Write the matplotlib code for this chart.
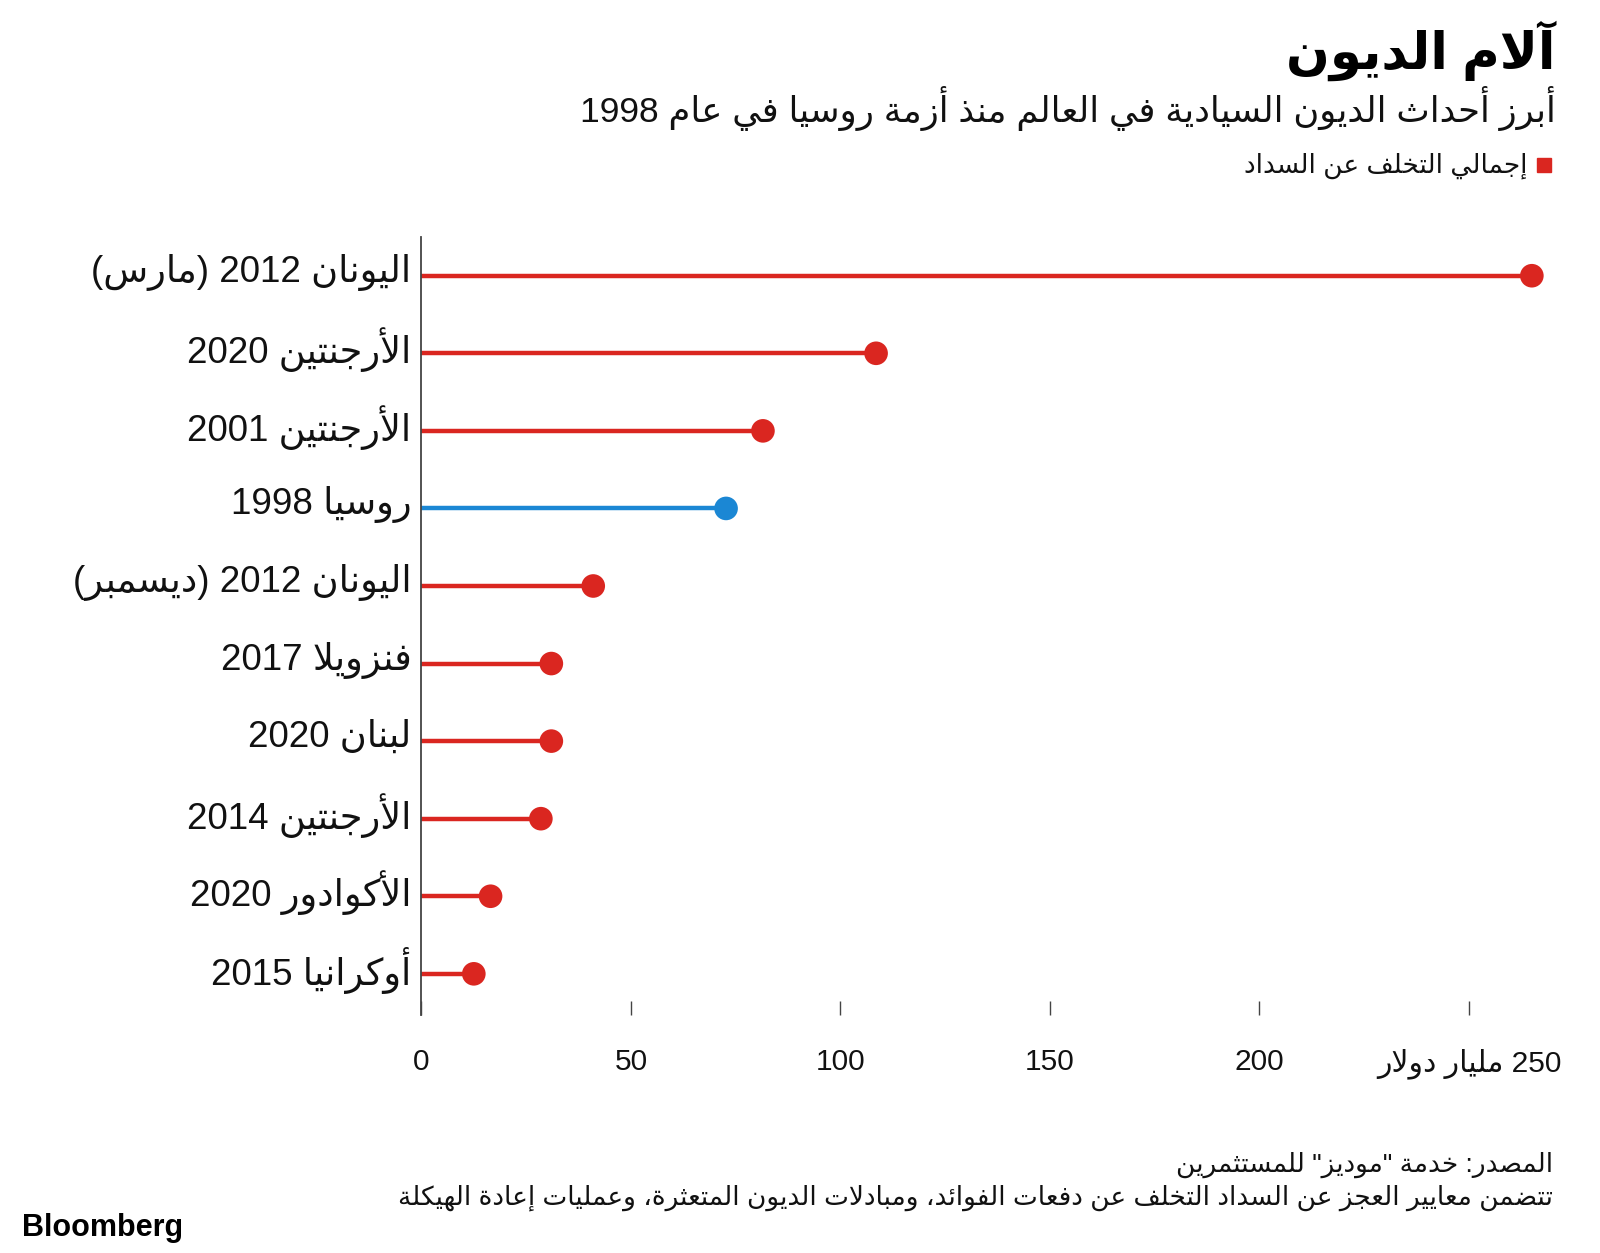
import re
import matplotlib
matplotlib.use("Agg")
from matplotlib import pyplot as plt
from matplotlib.patches import Rectangle

plt.rcParams['font.family'] = ['Liberation Sans', 'DejaVu Sans']

# ---- data ----
events = ["اليونان 2012 (مارس)", "الأرجنتين 2020", "الأرجنتين 2001", "روسيا 1998",
          "اليونان 2012 (ديسمبر)", "فنزويلا 2017", "لبنان 2020", "الأرجنتين 2014",
          "الأكوادور 2020", "أوكرانيا 2015"]
totals = [265, 108.5, 81.5, 72.7, 41, 31, 31, 28.5, 16.5, 12.5]
highlight = "روسيا 1998"
xticks = [0, 50, 100, 150, 200, 250]
unit = "مليار دولار"

title = "آلام الديون"
subtitle = "أبرز أحداث الديون السيادية في العالم منذ أزمة روسيا في عام 1998"
legend_label = "إجمالي التخلف عن السداد"
source = 'المصدر: خدمة "موديز" للمستثمرين'
note = "تتضمن معايير العجز عن السداد التخلف عن دفعات الفوائد، ومبادلات الديون المتعثرة، وعمليات إعادة الهيكلة"

RED = '#da2620'
BLUE = '#1b87d4'

# ---- tiny arabic shaper (matplotlib has no RTL / joining support) ----
_DUAL = {'ئ': 0xFE89, 'ب': 0xFE8F, 'ت': 0xFE95, 'ث': 0xFE99, 'ج': 0xFE9D, 'ح': 0xFEA1,
         'خ': 0xFEA5, 'س': 0xFEB1, 'ش': 0xFEB5, 'ص': 0xFEB9, 'ض': 0xFEBD, 'ط': 0xFEC1,
         'ظ': 0xFEC5, 'ع': 0xFEC9, 'غ': 0xFECD, 'ف': 0xFED1, 'ق': 0xFED5, 'ك': 0xFED9,
         'ل': 0xFEDD, 'م': 0xFEE1, 'ن': 0xFEE5, 'ه': 0xFEE9, 'ي': 0xFEF1}
_RIGHT = {'آ': 0xFE81, 'أ': 0xFE83, 'ؤ': 0xFE85, 'إ': 0xFE87, 'ا': 0xFE8D, 'ة': 0xFE93,
          'د': 0xFEA9, 'ذ': 0xFEAB, 'ر': 0xFEAD, 'ز': 0xFEAF, 'و': 0xFEED, 'ى': 0xFEEF}
_LAMALEF = {'آ': 0xFEF5, 'أ': 0xFEF7, 'إ': 0xFEF9, 'ا': 0xFEFB}


def shape(s):
    units = []
    i = 0
    while i < len(s):
        if s[i] == 'ل' and i + 1 < len(s) and s[i + 1] in _LAMALEF:
            units.append(('LA', s[i + 1]))
            i += 2
        else:
            units.append(('C', s[i]))
            i += 1

    def joins_next(u):
        return u[0] == 'C' and u[1] in _DUAL

    def joins_prev(u):
        return u[0] == 'LA' or u[1] in _DUAL or u[1] in _RIGHT

    out = []
    for k, u in enumerate(units):
        p = k > 0 and joins_next(units[k - 1]) and joins_prev(u)
        n = k + 1 < len(units) and joins_next(u) and joins_prev(units[k + 1])
        if u[0] == 'LA':
            out.append(chr(_LAMALEF[u[1]] + (1 if p else 0)))
        elif u[1] in _DUAL:
            out.append(chr(_DUAL[u[1]] + (3 if p and n else 2 if n else 1 if p else 0)))
        elif u[1] in _RIGHT:
            out.append(chr(_RIGHT[u[1]] + (1 if p else 0)))
        else:
            out.append(u[1])
    return ''.join(out)


def ar(s):
    s = shape(s)
    runs = re.findall(r'[0-9A-Za-z]+|[^0-9A-Za-z]+', s)
    vis = []
    for r in reversed(runs):
        if re.match(r'[0-9A-Za-z]', r):
            vis.append(r)
        else:
            vis.append(r[::-1].translate(str.maketrans('()', ')(')))
    return ''.join(vis)


# ---- figure ----
fig = plt.figure(figsize=(16, 12.53), dpi=100)
ax = fig.add_axes([0.2634, 0.19, 0.7071, 0.6209])

ys = list(range(len(events)))
colors = [BLUE if e == highlight else RED for e in events]
ax.hlines(ys, 0, totals, colors=colors, lw=3.2, zorder=2)
ax.scatter(totals, ys, s=17 ** 2, c=colors, zorder=3, clip_on=False, linewidths=0)

ax.set_xlim(0, 270)
ax.set_ylim(9.53, -0.5)

# category labels sit a little above their stems
ax.set_yticks(ys)
ax.set_yticklabels([])
ax.tick_params(axis='y', length=0)
for y, e in zip(ys, events):
    ax.annotate(ar(e), xy=(0, y), xycoords=('axes fraction', 'data'),
                xytext=(-10, 8), textcoords='offset pixels', ha='right',
                va='center_baseline', fontsize=26.5, color='#111111')

xlabels = [str(v) for v in xticks]
xlabels[-1] = ar(str(xticks[-1]) + ' ' + unit)
ax.set_xticks(xticks)
ax.set_xticklabels(xlabels, fontsize=21.5, color='#111111')
ax.tick_params(axis='x', direction='in', length=10, width=1, color='#444444', pad=24)

for side in ['top', 'right', 'bottom']:
    ax.spines[side].set_visible(False)
ax.spines['left'].set_color('#444444')
ax.spines['left'].set_linewidth(1.3)

# ---- header ----
RX = 0.9725
fig.text(RX, 1 - 69 / 1253, ar(title), ha='right', va='baseline', fontsize=37,
         fontweight='bold', color='#000000')
fig.text(RX, 1 - 122 / 1253, ar(subtitle), ha='right', va='baseline', fontsize=25.5,
         color='#111111')
fig.patches.append(Rectangle((1537 / 1600, 1 - 172 / 1253), 14 / 1600, 14 / 1253,
                             transform=fig.transFigure, color=RED))
fig.text(1527 / 1600, 1 - 166 / 1253, ar(legend_label), ha='right', va='center',
         fontsize=19, color='#111111')

# ---- footer ----
fig.text(1553 / 1600, 1 - 1165 / 1253, ar(source), ha='right', va='center', fontsize=19,
         color='#111111')
fig.text(1553 / 1600, 1 - 1198 / 1253, ar(note), ha='right', va='center', fontsize=19,
         color='#111111')
fig.text(22 / 1600, 1 - 1228 / 1253, "Bloomberg", ha='left', va='center', fontsize=22,
         fontweight='bold', color='#000000')

fig.savefig('out.png', dpi=100)
